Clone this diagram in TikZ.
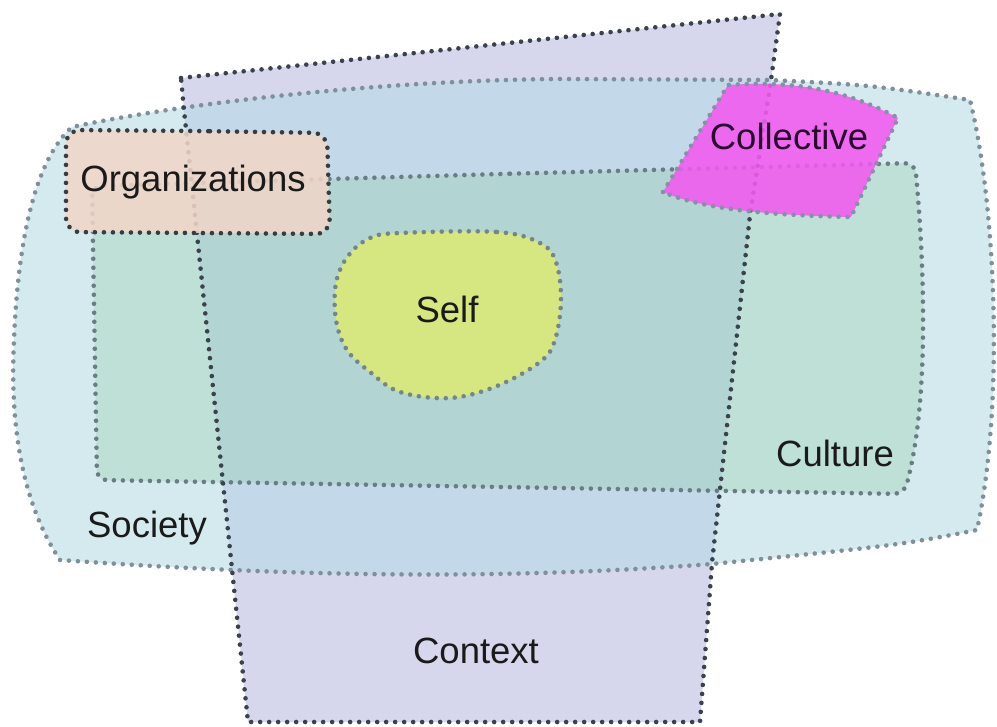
\documentclass[tikz,border=0pt]{standalone}
\usepackage{fontspec}
\setmainfont{Liberation Sans}
\definecolor{socC}{HTML}{D4EAEE}
\definecolor{ctxC}{HTML}{D6D6EC}
\definecolor{ctxsocC}{HTML}{C3D8E8}
\definecolor{culC}{HTML}{BEE0D6}
\definecolor{culctxC}{HTML}{B2D4D2}
\definecolor{selfC}{HTML}{D6E680}
\definecolor{orgC}{HTML}{F2D6C8}
\definecolor{colC}{HTML}{F25AF0}
\definecolor{socL}{HTML}{7F8F9C}
\definecolor{ctxL}{HTML}{3A424E}
\definecolor{culL}{HTML}{6A7C84}
\definecolor{selfL}{HTML}{768684}
\definecolor{orgL}{HTML}{363C44}
\definecolor{colL}{HTML}{8A8EA8}
\definecolor{txt}{HTML}{1A1A1A}
\definecolor{coltxt}{HTML}{2A0A30}
\tikzset{
  dotline/.style={line width=4.6pt, line cap=round, dash pattern=on 0pt off 9pt},
  lbl/.style={anchor=base, text=txt, font=\fontsize{36.5}{42}\selectfont, inner sep=0pt}
}
\begin{document}
\begin{tikzpicture}[x=1pt,y=-1pt]
\def\SocPath{(60,560) .. controls (20,500) and (10,420) .. (14,340) .. controls (18,240) and (35,160) .. (72,127) .. controls (200,100) and (400,80) .. (560,79) -- (770,80) .. controls (870,85) .. (970,100) .. controls (995,200) and (1005,400) .. (977,530) .. controls (900,545) .. (712,564) .. controls (500,580) and (300,577) .. (60,560) -- cycle}
\def\CtxPath{(181,78) -- (780,14) -- (771,80) -- (750,215) -- (712,563) -- (700,722) -- (248,722) -- (184,110) -- cycle}
\def\CulPath{(500,174) [rounded corners=10] -- (915,163) .. controls (924,260) and (930,400) .. (904,494) -- (97,480) -- (92,186) -- cycle}
\def\SelfPath{plot[smooth cycle, tension=0.6] coordinates {(400,233) (497,232) (540,243) (556,262) (561,300) (555,340) (540,362) (497,386) (450,398) (400,392) (370,372) (347,350) (336,320) (336,283) (348,256) (370,238)}}
\def\OrgPath{(196,131) [rounded corners=14] -- (327,133) -- (330,234) -- (66,232) -- (66,130) -- cycle}
\def\ColPath{(663,192) -- (728,85) .. controls (800,80) and (850,92) .. (898,118) -- (851,217) .. controls (760,215) and (700,208) .. (663,192) -- cycle}
\useasboundingbox (0,0) rectangle (997,727);
\fill[white] (0,0) rectangle (997,727);
% fills
\fill[socC] \SocPath;
\fill[ctxC] \CtxPath;
\begin{scope}
  \clip \SocPath;
  \fill[ctxsocC] \CtxPath;
\end{scope}
\fill[culC] \CulPath;
\begin{scope}
  \clip \CtxPath;
  \fill[culctxC] \CulPath;
\end{scope}
\fill[selfC] \SelfPath;
% outlines
\draw[dotline, socL] \SocPath;
\draw[dotline, culL] \CulPath;
\draw[dotline, ctxL] \CtxPath;
\draw[dotline, selfL] \SelfPath;
% organizations
\fill[orgC, fill opacity=0.86] \OrgPath;
\draw[dotline, orgL] \OrgPath;
% collective
\fill[colC, fill opacity=0.88] \ColPath;
\draw[dotline, colL] \ColPath;
% labels
\node[lbl] (org) at (193,192) {Organizations};
\node[lbl, text=coltxt] (col) at (789,150) {Collective};
\node[lbl] (self) at (447,323) {Self};
\node[lbl] (cul) at (835,467) {Culture};
\node[lbl] (soc) at (147,537) {Society};
\node[lbl] (ctx) at (476,663) {Context};
\end{tikzpicture}
\end{document}
